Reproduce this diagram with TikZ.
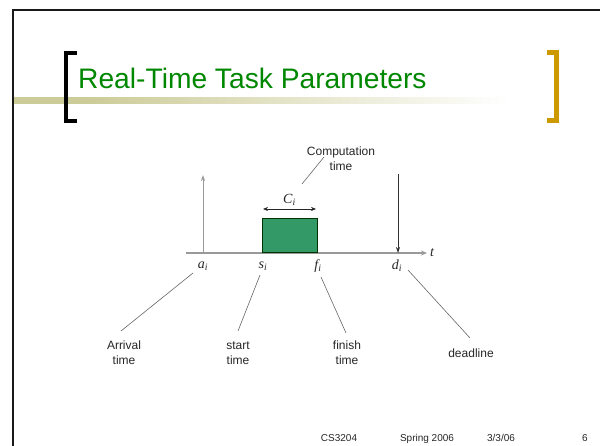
\documentclass[tikz,border=0pt]{standalone}
\usepackage{fontspec}
\setmainfont{Liberation Sans}
\newfontfamily\timesfont{Liberation Serif}
\usepackage{xcolor}
\usetikzlibrary{arrows.meta}
\usetikzlibrary{positioning, calc}
\definecolor{titlegreen}{RGB}{0,135,0}
\definecolor{barolive}{RGB}{204,204,153}
\definecolor{bracketgold}{RGB}{204,153,0}
\definecolor{taskgreen}{RGB}{51,153,102}

\begin{document}
\begin{tikzpicture}[x=1pt,y=-1pt]
  \tikzstyle{leader}=[draw=black!60, line width=0.6pt]
  \tikzstyle{axis}=[draw=black!40, line width=1.3pt]
  \tikzstyle{lbl}=[font=\fontsize{12}{15}\selectfont, text=black!85, align=center, inner sep=0pt]
  \tikzstyle{sym}=[font=\fontsize{14}{14}\selectfont\timesfont\itshape, text=black!85, inner sep=1pt]
  \tikzstyle{foot}=[font=\fontsize{10}{10}\selectfont, text=black!85, inner sep=0pt, anchor=base]

  \def\ty{253}
  \def\ly{266}

  \useasboundingbox (0,0) rectangle (600,446);

  % FRAME
  \draw[line width=2.5pt, black!90] (13,446) -- (13,10) -- (600,10);
  \shade[left color=barolive, right color=barolive] (14,98) rectangle (90,104);
  \shade[left color=barolive, right color=white] (90,98) rectangle (510,104);
  \draw[line width=4pt] (77,53) -- (65.5,53) -- (65.5,121) -- (77,121);
  \draw[line width=5pt, bracketgold] (547,53) -- (556,53) -- (556,121) -- (547,121);

  % TITLE
  \node[anchor=base west, inner sep=0pt, text=titlegreen,
    font=\fontsize{28.2}{30}\selectfont] (title) at (78,89) {Real-Time Task Parameters};

  % TIME AXIS
  \coordinate (t0) at (186,\ty);
  \coordinate (t1) at (427,\ty);
  \draw[axis, -{Stealth[length=6pt,width=5pt]}] (t0) -- (t1);
  \node[sym, anchor=west] (t) at (429,\ty) {t};

  % TASK
  \node[draw=black!80!green, fill=taskgreen, line width=0.8pt, inner sep=0pt,
    minimum width=55pt, minimum height=34pt, anchor=south west] (task) at (262,\ty) {};
  \coordinate (cl) at (263,209);
  \coordinate (cr) at (316,209);
  \draw[black!85, line width=0.6pt, {Stealth[length=5pt,width=4pt]}-{Stealth[length=5pt,width=4pt]}] (cl) -- (cr);
  \node[sym, anchor=south] (ci) at ($(cl)!0.5!(cr)+(0,-2)$) {C\textsubscript{i}};

  % ARRIVAL AND DEADLINE
  \coordinate (abot) at (203,\ty);
  \coordinate (atop) at (203,175);
  \draw[axis, line width=1pt, -{Stealth[length=6pt,width=4pt]}] (abot) -- (atop);
  \coordinate (dtop) at (398,174);
  \coordinate (dbot) at (398,\ty);
  \draw[black!80, line width=0.7pt, -{Stealth[length=6pt,width=4pt]}] (dtop) -- (dbot);

  % POINT LABELS
  \foreach \n/\x in {a/203,s/263,f/318,d/397}{
      \node[sym] (\n) at (\x,\ly) {\n\textsubscript{i}};
    }

  % TEXT LABELS
  \node[lbl] (comp) at (341,159) {Computation\\time};
  \node[lbl] (arrival) at (124,353) {Arrival\\time};
  \node[lbl] (start) at (238,353) {start\\time};
  \node[lbl] (finish) at (347,353) {finish\\time};
  \node[lbl] (deadline) at (471,353) {deadline};

  % LEADERS
  \foreach \n/\xa/\ya/\xb/\yb in {comp/302/184/324/157, arrival/193/273/121/331,
      start/260/275/238/331, finish/321/277/346/333, deadline/408/270/470/338}{
      \coordinate (\n a) at (\xa,\ya);
      \coordinate (\n b) at (\xb,\yb);
      \draw[leader] (\n a) -- (\n b);
    }

  % FOOTER
  \node[foot] (course) at (339,441) {CS3204};
  \node[foot] (term) at (427,441) {Spring 2006};
  \node[foot] (date) at (501,441) {3/3/06};
  \node[foot] (page) at (585,441) {6};
\end{tikzpicture}
\end{document}
